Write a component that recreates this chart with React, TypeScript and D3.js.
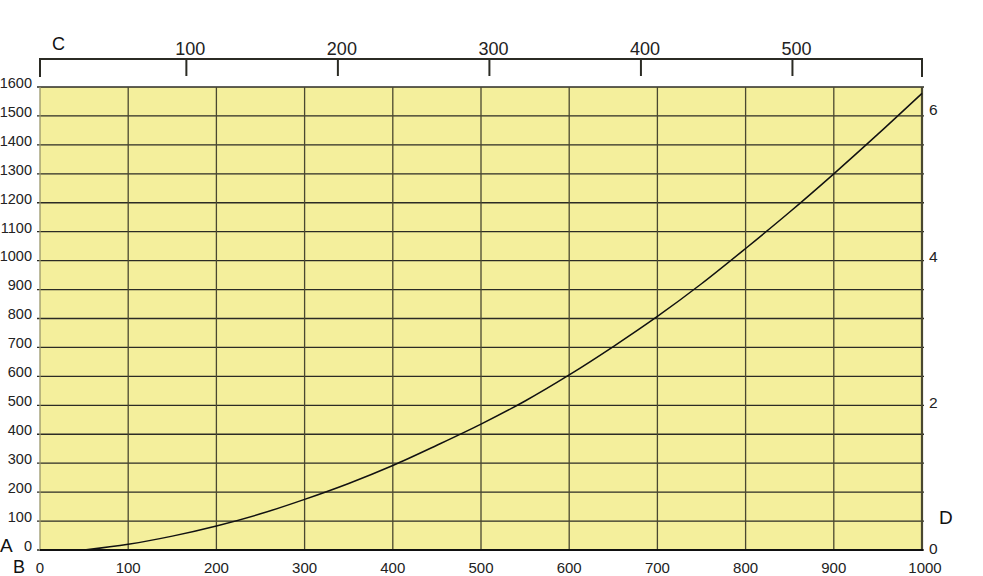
import * as d3 from 'd3'

// bottom axis (B) values and left axis (A) values of the curve
const curveX = [50, 100, 150, 200, 250, 300, 350, 400, 450, 500, 550, 600, 650, 700, 750, 800, 850, 900, 950, 1000]
const curveY = [0, 20, 48, 83, 125, 175, 230, 292, 362, 435, 515, 605, 703, 807, 920, 1042, 1168, 1300, 1437, 1578]

const bottomTicks = [0, 100, 200, 300, 400, 500, 600, 700, 800, 900, 1000]
const leftTicks = [0, 100, 200, 300, 400, 500, 600, 700, 800, 900, 1000, 1100, 1200, 1300, 1400, 1500, 1600]
const topTicks = [100, 200, 300, 400, 500]
const rightTicks = [0, 2, 4, 6]

const W = 983
const H = 576
const margin = { top: 87, right: 61, bottom: 26, left: 40 }

export default function App() {
  const x = d3.scaleLinear().domain([0, 1000]).range([margin.left, W - margin.right])
  const y = d3.scaleLinear().domain([0, 1600]).range([H - margin.bottom, margin.top])
  // top axis C and right axis D
  const xTop = d3.scaleLinear().domain([3.4, 585.5]).range([margin.left, W - margin.right])
  const yRight = d3.scaleLinear().domain([0, 6.33]).range([H - margin.bottom, margin.top])

  const pts: [number, number][] = curveX.map((v, i) => [v, curveY[i]])
  const line = d3
    .line<[number, number]>()
    .x((d) => x(d[0]))
    .y((d) => y(d[1]))
    .curve(d3.curveMonotoneX)

  const x0 = x(0)
  const x1 = x(1000)
  const y0 = y(0)
  const y1 = y(1600)
  const bracketY = 59
  const font = 'Liberation Sans, Arial, Helvetica, sans-serif'
  const ink = '#2b2b24'

  return (
    <svg
      width={W}
      height={H}
      style={{ position: 'absolute', left: 0, top: 0, background: '#fff' }}
      fontFamily={font}
    >
      <rect x={x0} y={y1} width={x1 - x0} height={y0 - y1} fill="#f4ef9c" />

      {/* horizontal grid */}
      {leftTicks.map((t) => (
        <line key={'h' + t} x1={x0 - 3} x2={x1 + 2} y1={y(t)} y2={y(t)} stroke={ink} strokeWidth={1.3} />
      ))}
      {/* vertical grid */}
      {bottomTicks.map((t) => (
        <line key={'v' + t} x1={x(t)} x2={x(t)} y1={y1} y2={y0} stroke={t === 0 ? '#9a976a' : '#4a4830'} strokeWidth={t === 1000 ? 2.2 : 1.3} />
      ))}
      <line x1={x0} x2={x1 + 1} y1={y0} y2={y0} stroke="#111" strokeWidth={2} />

      <path d={line(pts) ?? ''} fill="none" stroke="#111" strokeWidth={1.5} />

      {/* top bracket axis C */}
      <path
        d={`M${x0},${bracketY + 18}V${bracketY}H${x1}V${bracketY + 18}`}
        fill="none"
        stroke={ink}
        strokeWidth={2}
      />
      {topTicks.map((t) => (
        <g key={'t' + t}>
          <line x1={xTop(t)} x2={xTop(t)} y1={bracketY} y2={bracketY + 17} stroke={ink} strokeWidth={2} />
          <text x={xTop(t) + 4} y={bracketY - 4} textAnchor="middle" fontSize={18} fill="#222">
            {t}
          </text>
        </g>
      ))}

      {/* left axis A */}
      {leftTicks.map((t) => (
        <text key={'l' + t} x={32} y={y(t) - 3} textAnchor="end" fontSize={14.5} fill="#222" dominantBaseline="middle">
          {t}
        </text>
      ))}
      {/* bottom axis B */}
      {bottomTicks.map((t) => (
        <text key={'b' + t} x={x(t) + (t === 1000 ? 3 : 0)} y={569} textAnchor="middle" fontSize={15} fill="#222" dominantBaseline="middle">
          {t}
        </text>
      ))}
      {/* right axis D */}
      {rightTicks.map((t) => (
        <text key={'r' + t} x={x1 + 7} y={yRight(t)} textAnchor="start" fontSize={15.5} fill="#222" dominantBaseline="middle">
          {t}
        </text>
      ))}

      <text x={52} y={50} fontSize={18} fill="#111">C</text>
      <text x={0} y={552} fontSize={19} fill="#111">A</text>
      <text x={13} y={573} fontSize={18} fill="#111">B</text>
      <text x={939} y={524} fontSize={19} fill="#111">D</text>
    </svg>
  )
}
